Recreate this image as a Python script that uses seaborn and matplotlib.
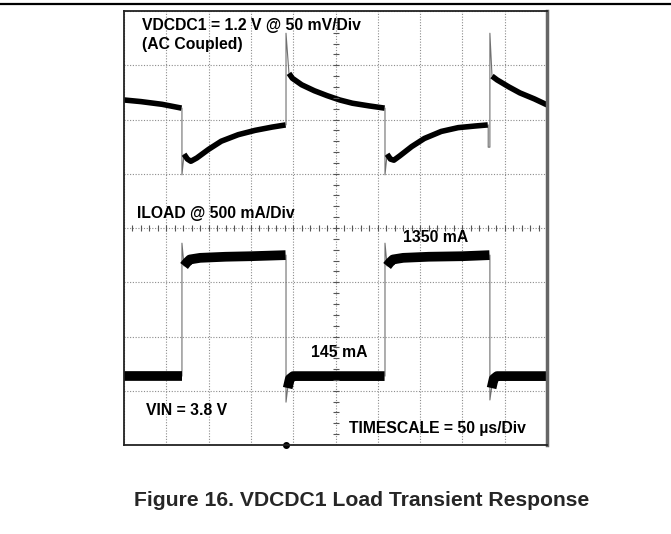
import matplotlib.pyplot as plt
import seaborn as sns
from matplotlib.lines import Line2D

# screen units: time in µs (50 µs/div), level in scope divisions (0 = bottom, 8 = top)
vout_t = [[0, 20, 45, 68],
          [71, 75, 79, 86, 100, 115, 135, 155, 175, 191],
          [195, 199, 210, 225, 240, 255, 270, 290, 308],
          [311, 315, 319, 326, 340, 355, 375, 395, 415, 430],
          [435, 441, 455, 468, 485, 500]]
vout_y = [[6.36, 6.33, 6.28, 6.21],
          [5.36, 5.27, 5.23, 5.29, 5.45, 5.60, 5.72, 5.80, 5.86, 5.90],
          [6.85, 6.76, 6.64, 6.53, 6.44, 6.36, 6.30, 6.25, 6.21],
          [5.36, 5.27, 5.25, 5.33, 5.50, 5.65, 5.78, 5.85, 5.88, 5.90],
          [6.80, 6.73, 6.60, 6.49, 6.38, 6.27]]
vout_edge_t = [[68.5, 68.5, 71], [191.5, 191.5, 195],
               [308.5, 308.5, 311], [430.5, 430.5, 432.5, 432.5, 435]]
vout_edge_y = [[6.21, 4.98, 5.36], [5.90, 7.59, 6.85],
               [6.21, 4.98, 5.36], [5.90, 5.49, 5.49, 7.59, 6.80]]

iload_t = [[0, 68],
           [71, 74, 78, 90, 120, 150, 191],
           [193.5, 196, 200, 308],
           [311, 314, 318, 330, 360, 400, 432],
           [434.5, 437, 441, 500]]
iload_y = [[1.27, 1.27],
           [3.30, 3.36, 3.42, 3.45, 3.47, 3.48, 3.50],
           [1.05, 1.22, 1.27, 1.27],
           [3.30, 3.36, 3.42, 3.45, 3.47, 3.48, 3.50],
           [1.05, 1.22, 1.27, 1.27]]
iload_edge_t = [[68.5, 68.5, 71], [191.5, 191.5, 193.5],
                [308.5, 308.5, 311], [432.5, 432.5, 434.5]]
iload_edge_y = [[1.27, 3.72, 3.30], [3.50, 0.79, 1.05],
                [1.27, 3.72, 3.30], [3.50, 0.83, 1.05]]

sns.set_style('white')
plt.rcParams['font.family'] = ['Liberation Sans', 'DejaVu Sans']

fig = plt.figure(figsize=(6.71, 5.34), dpi=100)
ax = fig.add_axes([124 / 671, 89 / 534, 423 / 671, 434 / 534])

for t, y in zip(vout_edge_t, vout_edge_y):
    sns.lineplot(x=t, y=y, ax=ax, color='#707070', lw=0.8, estimator=None, sort=False)
for t, y in zip(iload_edge_t, iload_edge_y):
    sns.lineplot(x=t, y=y, ax=ax, color='#707070', lw=0.8, estimator=None, sort=False)
for t, y in zip(vout_t, vout_y):
    sns.lineplot(x=t, y=y, ax=ax, color='black', lw=4, estimator=None, sort=False,
                 solid_capstyle='butt')
for t, y in zip(iload_t, iload_y):
    sns.lineplot(x=t, y=y, ax=ax, color='black', lw=7, estimator=None, sort=False,
                 solid_capstyle='butt')

ax.set_xlim(0, 500)
ax.set_ylim(0, 8)
ax.set_xticks(range(0, 501, 50))
ax.set_yticks(range(0, 9))
ax.grid(True, color='#8c8c8c', linestyle=(0, (1, 1.5)), lw=0.8)
ax.tick_params(length=0, labelbottom=False, labelleft=False)
ax.set_xlabel('')
ax.set_ylabel('')

# minor ticks on the centre graticule lines
ax.plot([x * 10 for x in range(1, 50)], [4] * 49, ls='none', marker='|',
        ms=5, mew=0.8, color='#555555')
ax.plot([250] * 39, [y * 0.2 for y in range(1, 40)], ls='none', marker='_',
        ms=5, mew=0.8, color='#555555')
ax.plot([192], [0], marker='o', ms=4, color='black', clip_on=False)

for s in ax.spines.values():
    s.set_color('#222222')
    s.set_linewidth(1.3)
ax.spines['right'].set_color('#666666')
ax.spines['right'].set_linewidth(2.5)

kw = dict(fontsize=11.3, fontweight='bold', va='center', ha='left', color='black')
ax.text(21, 7.74, 'VDCDC1 = 1.2 V @ 50 mV/Div', **kw)
ax.text(21, 7.39, '(AC Coupled)', **kw)
ax.text(15, 4.26, 'ILOAD @ 500 mA/Div', **kw)
ax.text(330, 3.82, '1350 mA', **kw)
ax.text(221, 1.71, '145 mA', **kw)
ax.text(26, 0.645, 'VIN = 3.8 V', **kw)
ax.text(266, 0.31, 'TIMESCALE = 50 µs/Div', **kw)

fig.add_artist(Line2D([0, 1], [1 - 4 / 534, 1 - 4 / 534], color='black', lw=1.6))
fig.text(0.539, 1 - 501 / 534, 'Figure 16. VDCDC1 Load Transient Response',
         fontsize=15.2, fontweight='bold', ha='center', va='center')

fig.savefig('out.png', dpi=100)
